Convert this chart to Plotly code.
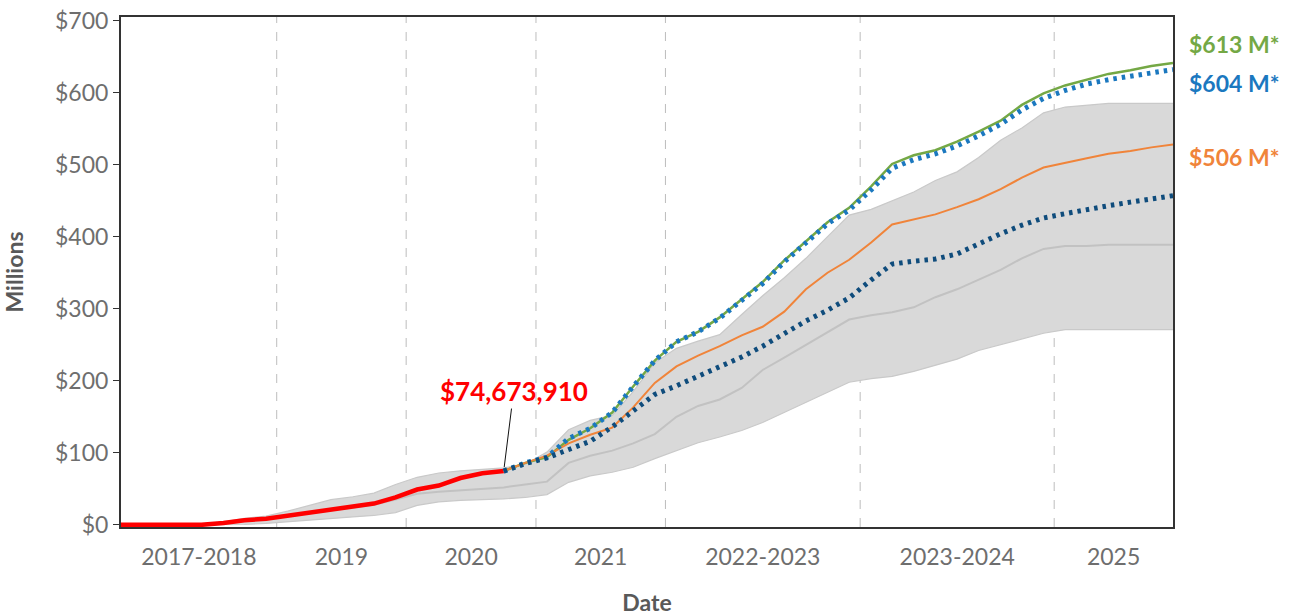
import pandas as pd
import plotly.graph_objects as go

# ---- data (values in $ millions), bi-monthly from Apr 2017 to Jun 2025 ----
dates = pd.date_range("2017-04-01", "2025-06-01", freq="2MS")

actual = [0, 0, 0, 0, 0, 2.5, 6.5, 8.5, 13, 16, 21, 25.5, 29.5, 38, 49, 54.5,
          65, 71.5, 74.67]

band_upper = [0, 0, 0, 0.5, 1.5, 4, 9, 12, 19, 27, 35, 39, 44, 56, 66, 72,
              75, 77, 79, 84, 101, 132, 145, 152, 185, 225, 245, 255, 264, 292,
              318, 343, 370, 400, 430, 438, 450, 462, 478, 490, 510, 534, 551,
              572, 580, 582, 585, 585, 585, 585]
band_lower = [0, 0, 0, 0, 0, 0, 0.5, 2, 4, 7, 9, 11, 13, 17, 27, 32,
              34, 35, 36, 38, 42, 59, 68, 73, 80, 92, 103, 114, 122, 131,
              142, 156, 170, 184, 198, 203, 206, 213, 222, 230, 242, 250, 258,
              266, 271, 271, 271, 271, 271, 271]
band_mid = [0, 0, 0, 0, 0, 2, 6, 8, 12, 15, 20, 24, 28, 35, 43, 46,
            48, 50, 52, 56, 60, 86, 96, 103, 113, 126, 150, 165, 174, 190,
            215, 232, 250, 268, 285, 291, 295, 302, 316, 327, 340, 354, 370,
            383, 387, 387, 389, 389, 389, 389]

# forecasts start where the actuals end (Apr 2020)
fc_green = [74.67, 86, 94, 118, 134, 156, 192, 228, 254, 268, 288, 313, 337,
            367, 394, 420, 440, 470, 501, 513, 520, 532, 546, 561, 583, 599,
            610, 618, 626, 631, 637, 641]
fc_blue = [74.67, 86, 94, 120, 134, 156, 192, 228, 254, 268, 287, 312, 335,
           365, 392, 418, 437, 465, 495, 507, 515, 526, 540, 556, 576, 592,
           603, 612, 618, 623, 627, 632]
fc_orange = [74.67, 86, 96, 113, 125, 135, 163, 197, 220, 235, 248, 263, 275,
             296, 327, 350, 368, 392, 417, 424, 431, 441, 452, 466, 482, 496,
             503, 509, 515, 519, 524, 528]
fc_navy = [74.67, 85, 93, 104, 116, 136, 158, 181, 193, 206, 218, 233, 248,
           265, 283, 298, 315, 340, 362, 366, 369, 376, 390, 404, 416, 426,
           432, 438, 443, 448, 452, 457]

period_edges = ["2017-04-18", "2018-07-01", "2019-07-01", "2020-07-01",
                "2021-07-01", "2023-01-01", "2024-07-01", "2025-06-01"]
period_labels = ["2017-2018", "2019", "2020", "2021", "2022-2023",
                 "2023-2024", "2025"]

end_labels = ["$613 M*", "$604 M*", "$506 M*"]
end_label_y = [668, 614, 510]

FONT = "Lato, Arial, sans-serif"
GREEN = "#74a845"
BLUE = "#1b78bf"
ORANGE = "#f0843a"
NAVY = "#0f4c7c"
RED = "#ff0000"

act_dates = dates[:len(actual)]
fc_dates = dates[len(actual) - 1:]

fig = go.Figure()

# uncertainty band
fig.add_trace(go.Scatter(x=dates, y=band_lower, mode="lines",
                         line=dict(color="#c9c9c9", width=1.2),
                         hoverinfo="skip"))
fig.add_trace(go.Scatter(x=dates, y=band_upper, mode="lines",
                         line=dict(color="#c9c9c9", width=1.2),
                         fill="tonexty", fillcolor="#d9d9d9",
                         hoverinfo="skip"))
fig.add_trace(go.Scatter(x=dates, y=band_mid, mode="lines",
                         line=dict(color="#c2c2c2", width=2)))

# actuals
fig.add_trace(go.Scatter(x=act_dates, y=actual, mode="lines",
                         line=dict(color=RED, width=4.5)))

# forecasts
fig.add_trace(go.Scatter(x=fc_dates, y=fc_green, mode="lines",
                         line=dict(color=GREEN, width=2.5)))
fig.add_trace(go.Scatter(x=fc_dates, y=fc_orange, mode="lines",
                         line=dict(color=ORANGE, width=2)))
fig.add_trace(go.Scatter(x=fc_dates, y=fc_blue, mode="lines",
                         line=dict(color=BLUE, width=5, dash="3.5px,5px")))
fig.add_trace(go.Scatter(x=fc_dates, y=fc_navy, mode="lines",
                         line=dict(color=NAVY, width=5, dash="3.5px,5px")))

# period separators
for d in period_edges[1:-1]:
    fig.add_vline(x=d, line=dict(color="#bdbdbd", width=1, dash="dash"),
                  layer="below")

edges = pd.to_datetime(period_edges)
mids = [edges[i] + (edges[i + 1] - edges[i]) / 2 for i in range(len(edges) - 1)]

# last actual value callout
fig.add_annotation(x=act_dates[-1], y=actual[-1],
                   text="<b>$74,673,910</b>", showarrow=True,
                   arrowhead=0, arrowwidth=1, arrowcolor="#111111",
                   ax=10, ay=-80, standoff=4,
                   font=dict(family=FONT, size=26, color=RED))

for txt, yv, col in zip(end_labels, end_label_y, [GREEN, BLUE, ORANGE]):
    fig.add_annotation(x=1, xref="paper", y=yv, yref="y", text=f"<b>{txt}</b>",
                       showarrow=False, xanchor="left", xshift=14,
                       font=dict(family=FONT, size=23, color=col))

fig.update_xaxes(
    type="date", automargin=False,
    range=[period_edges[0], period_edges[-1]],
    tickvals=mids, ticktext=period_labels,
    ticks="", ticklabelstandoff=8, showgrid=False,
    showline=True, linecolor="#333333", linewidth=2, mirror=True,
    tickfont=dict(family=FONT, size=23, color="#6e6e6e"),
    title=dict(text="<b>Date</b>", standoff=26,
               font=dict(family=FONT, size=23, color="#595959")),
)
fig.update_yaxes(
    automargin=False, ticklabeloverflow="allow",
    range=[-3, 705],
    tickvals=[0, 100, 200, 300, 400, 500, 600, 700],
    ticktext=["$0", "$100", "$200", "$300", "$400", "$500", "$600", "$700"],
    ticks="outside", ticklen=6, tickcolor="#333333",
    showgrid=False, zeroline=False,
    showline=True, linecolor="#333333", linewidth=2, mirror=True,
    tickfont=dict(family=FONT, size=23, color="#6e6e6e"),
    title=dict(text="<b>Millions</b>", standoff=35,
               font=dict(family=FONT, size=23, color="#595959")),
)

fig.update_layout(
    width=1297, height=616,
    margin=dict(l=121, r=124, t=17, b=89),
    paper_bgcolor="white", plot_bgcolor="white",
    showlegend=False,
)

# drop the browser's default 8px body margin so the figure fills the window
fig.write_html("out.html", config={"displayModeBar": False},
               post_script="document.body.style.margin = '0';")
